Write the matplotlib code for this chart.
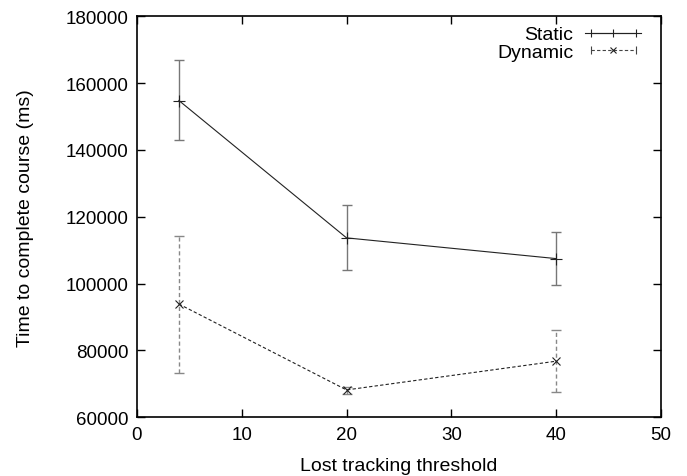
import matplotlib.pyplot as plt
from matplotlib.lines import Line2D
from matplotlib.legend_handler import HandlerLine2D, HandlerTuple

plt.rcParams['font.family'] = ['Liberation Sans', 'DejaVu Sans']

# datos
umbral = [4, 20, 40]
static_t = [154800, 113700, 107500]
static_lo = [143000, 104100, 99500]
static_hi = [167000, 123600, 115500]
dynamic_t = [93900, 68200, 76800]
dynamic_lo = [73300, 67000, 67500]
dynamic_hi = [114400, 69200, 86000]

fig = plt.figure(figsize=(6.87, 4.77), dpi=100)
ax = fig.add_axes([0.1994, 0.123, 0.7626, 0.8407])

err_s = [[v - l for v, l in zip(static_t, static_lo)], [h - v for v, h in zip(static_t, static_hi)]]
err_d = [[v - l for v, l in zip(dynamic_t, dynamic_lo)], [h - v for v, h in zip(dynamic_t, dynamic_hi)]]

ax.errorbar(umbral, static_t, yerr=err_s, fmt='none', ecolor='#777777', elinewidth=1.0, capsize=3.5, capthick=1.0)
eb = ax.errorbar(umbral, dynamic_t, yerr=err_d, fmt='none', ecolor='#888888', elinewidth=1.0, capsize=3.5, capthick=1.0)
for c in eb[2]:
    c.set_linestyle((0, (3, 2)))
ax.plot(umbral, static_t, color='#222222', lw=0.8, marker='+', ms=8, mew=0.8)
ax.plot(umbral, dynamic_t, color='#222222', lw=0.8, ls=(0, (3, 2)), marker='x', ms=6, mew=0.8)

ax.set_xlim(0, 50)
ax.set_ylim(60000, 180000)
ax.set_xticks(range(0, 51, 10))
ax.set_yticks(range(60000, 180001, 20000))
ax.tick_params(direction='in', length=6, width=1.0, top=True, right=True, labelsize=13.5, pad=6)
for s in ax.spines.values():
    s.set_linewidth(1.2)

ax.set_xlabel('Lost tracking threshold', fontsize=14, labelpad=10)
ax.set_ylabel('Time to complete course (ms)', fontsize=14, labelpad=23)

# leyenda estilo gnuplot
h_s_ends = Line2D([], [], color='#222222', lw=0.8, marker='|', ms=6, mew=0.8)
h_s_mid = Line2D([], [], color='#222222', lw=0.8, marker='|', ms=6, mew=0.8)
h_d_ends = Line2D([], [], color='#444444', lw=0.8, ls=(0, (3, 2)), marker='|', ms=6, mew=0.8)
h_d_mid = Line2D([], [], color='#222222', lw=0.8, ls='none', marker='x', ms=5, mew=0.8)
hmap = {
    h_s_ends: HandlerLine2D(numpoints=2),
    h_d_ends: HandlerLine2D(numpoints=2),
    h_s_mid: HandlerLine2D(numpoints=1),
    h_d_mid: HandlerLine2D(numpoints=1),
    tuple: HandlerTuple(ndivide=1, pad=0),
}
leg = ax.legend([(h_s_ends, h_s_mid), (h_d_ends, h_d_mid)], ['Static', 'Dynamic'],
                handler_map=hmap, loc='upper right', bbox_to_anchor=(1.0, 1.025),
                frameon=False, markerfirst=False,
                fontsize=14, handlelength=2.9, borderaxespad=0.7, labelspacing=0.0,
                handletextpad=0.6, borderpad=0.3)

fig.savefig('out.png', dpi=100)
